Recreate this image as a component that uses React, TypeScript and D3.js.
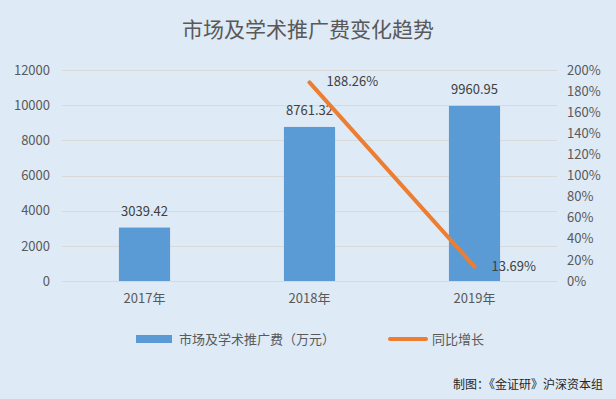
import { useEffect, useRef } from 'react';
import * as d3 from 'd3';

const years = ['2017年', '2018年', '2019年'];
const fees = [3039.42, 8761.32, 9960.95];
const growth = [null, 188.26, 13.69];
const leftTicks = [0, 2000, 4000, 6000, 8000, 10000, 12000];
const rightTicks = [0, 20, 40, 60, 80, 100, 120, 140, 160, 180, 200];

const FONT = '"Microsoft YaHei", "Noto Sans CJK SC", "Noto Sans", sans-serif';

export default function App() {
    const svgRef = useRef<SVGSVGElement>(null);

    useEffect(() => {
        document.body.style.margin = '0';

        const width = 616;
        const height = 399;
        const margin = { top: 70, right: 59, bottom: 118, left: 62 };

        const svg = d3.select(svgRef.current);
        svg.selectAll('*').remove();
        svg.attr('width', width).attr('height', height).style('font-family', FONT);

        svg.append('rect').attr('width', width).attr('height', height).attr('fill', '#DEEAF6');

        // title
        svg.append('text')
            .attr('x', 308)
            .attr('y', 37)
            .attr('text-anchor', 'middle')
            .attr('fill', '#595959')
            .style('font-size', '21px')
            .text('市场及学术推广费变化趋势');

        const x = d3.scaleBand()
            .domain(years)
            .range([margin.left, width - margin.right])
            .paddingInner(0.69)
            .paddingOuter(0.345);

        const xBand = d3.scaleBand().domain(years).range([margin.left, width - margin.right]);

        const y = d3.scaleLinear().domain([0, 12000]).range([height - margin.bottom, margin.top]);
        const y2 = d3.scaleLinear().domain([0, 200]).range([height - margin.bottom, margin.top]);

        // grid
        svg.append('g')
            .selectAll('line')
            .data(leftTicks)
            .join('line')
            .attr('x1', margin.left)
            .attr('x2', width - margin.right)
            .attr('y1', (d) => Math.round(y(d)) + 0.5)
            .attr('y2', (d) => Math.round(y(d)) + 0.5)
            .attr('stroke', '#D9D9D9');

        // left axis
        const yAxis = svg.append('g')
            .attr('transform', `translate(${margin.left},0)`)
            .call(d3.axisLeft(y).tickValues(leftTicks).tickSize(0).tickPadding(12).tickFormat(d3.format('d')));
        yAxis.select('.domain').remove();

        // right axis
        const y2Axis = svg.append('g')
            .attr('transform', `translate(${width - margin.right},0)`)
            .call(d3.axisRight(y2).tickValues(rightTicks).tickSize(0).tickPadding(10).tickFormat((d) => `${d}%`));
        y2Axis.select('.domain').remove();

        // x axis
        const xAxis = svg.append('g')
            .attr('transform', `translate(0,${height - margin.bottom})`)
            .call(d3.axisBottom(xBand).tickSize(0).tickPadding(13));
        xAxis.select('.domain').remove();

        svg.selectAll('.tick text')
            .attr('fill', '#595959')
            .style('font-size', '13px')
            .style('font-family', FONT);

        // bars
        svg.append('g')
            .attr('fill', '#5B9BD5')
            .selectAll('rect')
            .data(fees)
            .join('rect')
            .attr('x', (d, i) => x(years[i])!)
            .attr('y', (d) => y(d))
            .attr('width', x.bandwidth())
            .attr('height', (d) => y(0) - y(d));

        svg.append('g')
            .selectAll('text')
            .data(fees)
            .join('text')
            .attr('x', (d, i) => x(years[i])! + x.bandwidth() / 2)
            .attr('y', (d) => y(d) - 12)
            .attr('text-anchor', 'middle')
            .attr('fill', '#404040')
            .style('font-size', '13px')
            .text((d) => d.toFixed(2));

        // line
        const pts = growth
            .map((g, i) => ({ g, i }))
            .filter((d) => d.g !== null) as { g: number; i: number }[];

        const line = d3.line<{ g: number; i: number }>()
            .x((d) => xBand(years[d.i])! + xBand.bandwidth() / 2)
            .y((d) => y2(d.g));

        svg.append('path')
            .datum(pts)
            .attr('d', line)
            .attr('fill', 'none')
            .attr('stroke', '#ED7D31')
            .attr('stroke-width', 4)
            .attr('stroke-linecap', 'round');

        svg.append('g')
            .selectAll('text')
            .data(pts)
            .join('text')
            .attr('x', (d) => xBand(years[d.i])! + xBand.bandwidth() / 2 + 17)
            .attr('y', (d) => y2(d.g) + 4)
            .attr('fill', '#404040')
            .style('font-size', '13px')
            .text((d) => `${d.g.toFixed(2)}%`);

        // legend
        const legend = svg.append('g').attr('transform', 'translate(0,339)');
        legend.append('rect').attr('x', 136).attr('y', -4).attr('width', 36).attr('height', 8).attr('fill', '#5B9BD5');
        legend.append('text')
            .attr('x', 179).attr('y', 5)
            .attr('fill', '#595959')
            .style('font-size', '13px')
            .text('市场及学术推广费（万元）');
        legend.append('line')
            .attr('x1', 390).attr('x2', 426).attr('y1', 0).attr('y2', 0)
            .attr('stroke', '#ED7D31').attr('stroke-width', 4).attr('stroke-linecap', 'round');
        legend.append('text')
            .attr('x', 432).attr('y', 5)
            .attr('fill', '#595959')
            .style('font-size', '13px')
            .text('同比增长');

        // source
        svg.append('text')
            .attr('x', 603)
            .attr('y', 389)
            .attr('text-anchor', 'end')
            .attr('fill', '#262626')
            .style('font-size', '12px')
            .text('制图：《金证研》沪深资本组');
    }, []);

    return <svg ref={svgRef} style={{ display: 'block' }} />;
}
